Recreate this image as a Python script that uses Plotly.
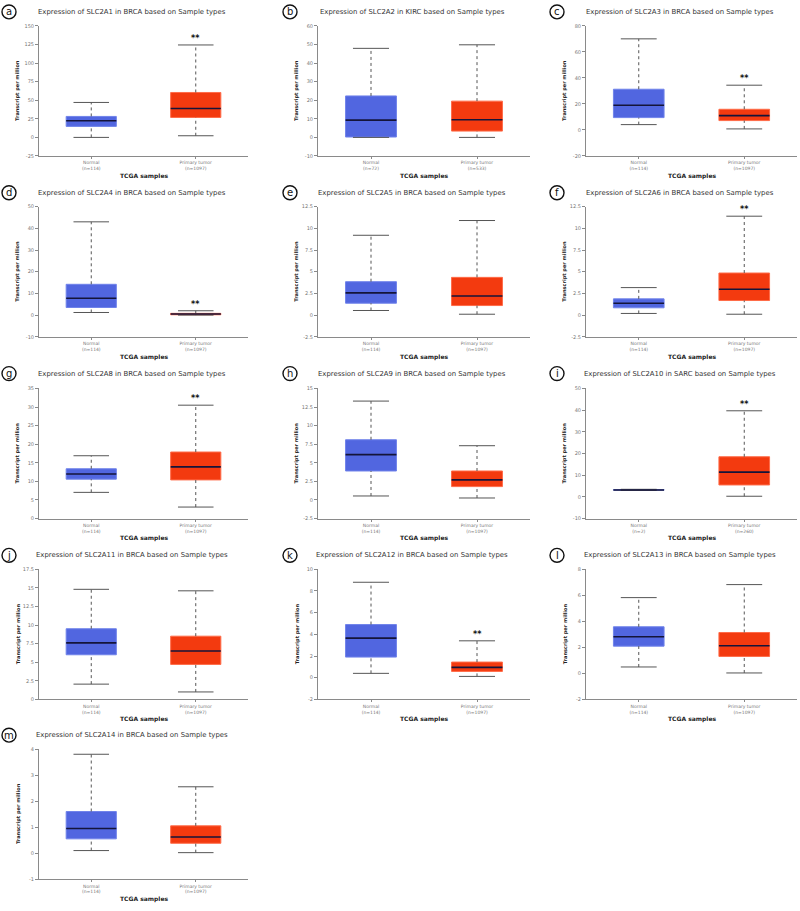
import plotly.graph_objects as go

# ---------------- data ----------------
genes = ["SLC2A1", "SLC2A2", "SLC2A3", "SLC2A4", "SLC2A5", "SLC2A6", "SLC2A8",
         "SLC2A9", "SLC2A10", "SLC2A11", "SLC2A12", "SLC2A13", "SLC2A14"]
cancers = ["BRCA", "KIRC", "BRCA", "BRCA", "BRCA", "BRCA", "BRCA",
           "BRCA", "SARC", "BRCA", "BRCA", "BRCA", "BRCA"]
panel_letters = ["a", "b", "c", "d", "e", "f", "g", "h", "i", "j", "k", "l", "m"]
group_names = ["Normal", "Primary tumor"]
n_normal = [114, 72, 114, 114, 114, 114, 114, 114, 2, 114, 114, 114, 114]
n_tumor = [1097, 533, 1097, 1097, 1097, 1097, 1097, 1097, 260, 1097, 1097, 1097, 1097]

normal_lower = [0.0, 0.0, 4.1, 1.2, 0.53, 0.19, 7.05, 0.54, 3.0, 2.05, 0.4, 0.49, 0.1]
normal_q1 = [14.8, 0.2, 9.5, 3.5, 1.37, 0.84, 10.6, 3.9, 3.1, 6.0, 1.9, 2.09, 0.55]
normal_median = [22.4, 9.3, 19.0, 7.8, 2.56, 1.37, 12.0, 6.1, 3.2, 7.6, 3.65, 2.81, 0.95]
normal_q3 = [28.2, 22.3, 31.3, 14.2, 3.85, 1.87, 13.4, 8.1, 3.35, 9.5, 4.9, 3.58, 1.6]
normal_upper = [47.0, 47.9, 70.0, 43.0, 9.2, 3.17, 16.9, 13.3, 3.5, 14.8, 8.8, 5.82, 3.8]

tumor_lower = [2.2, 0.0, 0.8, 0.0, 0.1, 0.1, 3.1, 0.27, 0.3, 1.0, 0.12, 0.03, 0.02]
tumor_q1 = [26.8, 3.4, 7.2, 0.15, 1.1, 1.68, 10.4, 1.8, 5.5, 4.7, 0.58, 1.3, 0.38]
tumor_median = [38.9, 9.5, 11.0, 0.5, 2.2, 2.98, 13.9, 2.7, 11.4, 6.5, 0.95, 2.12, 0.62]
tumor_q3 = [60.4, 19.5, 15.9, 0.8, 4.35, 4.85, 17.9, 3.9, 18.5, 8.5, 1.44, 3.14, 1.05]
tumor_upper = [124.3, 49.8, 34.4, 2.0, 10.9, 11.4, 30.5, 7.3, 39.7, 14.6, 3.4, 6.82, 2.55]
significant = [True, False, True, True, False, True, True, False, True, False, True, False, False]

y_min = [-25, -10, -20, -10, -2.5, -2.5, 0, -2.5, -10, 0, -2, -2, -1]
y_max = [150, 60, 80, 50, 12.5, 12.5, 35, 15, 50, 17.5, 10, 8, 4]
y_step = [25, 10, 20, 10, 2.5, 2.5, 5, 2.5, 10, 2.5, 2, 2, 1]

# ---------------- layout geometry (pixels) ----------------
W, H = 800, 911
col_x = [(39, 248), (318, 530), (586, 797)]
row_y = [(23, 154), (205, 336), (388, 519), (570, 701), (751, 882)]
title_y = [9, 191, 373, 556, 737]
letter_x = [9, 290, 557]

BLUE = "#5166e0"
BLUE_EDGE = "#7083ea"
RED = "#f33a0f"
RED_EDGE = "#ff6b48"
MED = "#14143a"
WHISK = "#555555"
AXC = "#8a8a8a"
FONT = "DejaVu Sans"

BOX_W = 0.48
CAP_W = 0.34


def px(x):
    return x / W


def py(y):
    return 1 - y / H


fig = go.Figure()
annotations = []
shapes = []
layout_axes = {}

for i, gene in enumerate(genes):
    r, c = divmod(i, 3)
    k = i + 1
    xa = "x" if k == 1 else f"x{k}"
    ya = "y" if k == 1 else f"y{k}"
    xkey = "xaxis" if k == 1 else f"xaxis{k}"
    ykey = "yaxis" if k == 1 else f"yaxis{k}"
    x0, x1 = col_x[c]
    yt, yb = row_y[r]

    groups = [
        (0, normal_lower[i], normal_q1[i], normal_median[i], normal_q3[i], normal_upper[i], BLUE, BLUE_EDGE),
        (1, tumor_lower[i], tumor_q1[i], tumor_median[i], tumor_q3[i], tumor_upper[i], RED, RED_EDGE),
    ]
    for pos, lo, q1, med, q3, up, col, edge in groups:
        # dotted whiskers
        fig.add_trace(go.Scatter(
            x=[pos, pos, None, pos, pos], y=[lo, q1, None, q3, up],
            mode="lines", line=dict(color=WHISK, width=1, dash="dot"),
            xaxis=xa, yaxis=ya, showlegend=False, hoverinfo="skip"))
        # caps
        fig.add_trace(go.Scatter(
            x=[pos - CAP_W / 2, pos + CAP_W / 2, None, pos - CAP_W / 2, pos + CAP_W / 2],
            y=[lo, lo, None, up, up],
            mode="lines", line=dict(color=WHISK, width=1),
            xaxis=xa, yaxis=ya, showlegend=False, hoverinfo="skip"))
        # box
        fig.add_trace(go.Bar(
            x=[pos], y=[q3 - q1], base=[q1], width=BOX_W,
            marker=dict(color=col, line=dict(color=edge, width=1)),
            xaxis=xa, yaxis=ya, showlegend=False, hoverinfo="skip"))
        # median
        fig.add_trace(go.Scatter(
            x=[pos - BOX_W / 2, pos + BOX_W / 2], y=[med, med],
            mode="lines", line=dict(color=MED, width=1.6),
            xaxis=xa, yaxis=ya, showlegend=False, hoverinfo="skip"))

    if significant[i]:
        annotations.append(dict(
            x=1, y=tumor_upper[i], xref=xa, yref=ya, text="<b>**</b>",
            showarrow=False, yanchor="bottom", yshift=0,
            font=dict(family=FONT, size=8, color="#111")))

    # y ticks
    nt = int(round((y_max[i] - y_min[i]) / y_step[i]))
    tv = [y_min[i] + j * y_step[i] for j in range(nt + 1)]
    tt = [f"{v:g}" for v in tv]

    layout_axes[xkey] = dict(
        domain=[px(x0), px(x1)], anchor=ya, range=[-0.5, 1.5],
        tickvals=[0, 1],
        ticktext=[f"{group_names[0]}<br>(n={n_normal[i]})", f"{group_names[1]}<br>(n={n_tumor[i]})"],
        showline=True, linecolor=AXC, linewidth=1, ticks="outside", ticklen=2,
        tickcolor=AXC, tickfont=dict(family=FONT, size=4.5, color="#777"),
        showgrid=False, zeroline=False, fixedrange=True)
    layout_axes[ykey] = dict(
        domain=[py(yb), py(yt)], anchor=xa, range=[y_min[i], y_max[i]],
        tickvals=tv, ticktext=tt,
        showline=True, linecolor=AXC, linewidth=1, ticks="outside", ticklen=3,
        tickcolor=AXC, tickfont=dict(family=FONT, size=5, color="#777"),
        showgrid=False, zeroline=False, fixedrange=True)

    # title
    cx = (x0 + x1) / 2 - 12
    annotations.append(dict(
        x=px(cx), y=py(title_y[r]), xref="paper", yref="paper",
        text=f"Expression of {gene} in {cancers[i]} based on Sample types",
        showarrow=False, xanchor="center", yanchor="middle",
        font=dict(family=FONT, size=6.9, color="#333")))
    # panel letter in circle
    lx, ly = letter_x[c], title_y[r]
    shapes.append(dict(type="circle", xref="paper", yref="paper",
                       x0=px(lx - 7), x1=px(lx + 7), y0=py(ly + 7), y1=py(ly - 7),
                       line=dict(color="#111", width=1.4)))
    annotations.append(dict(
        x=px(lx), y=py(ly), xref="paper", yref="paper", text=panel_letters[i],
        showarrow=False, xanchor="center", yanchor="middle",
        font=dict(family=FONT, size=10, color="#111")))
    # axis titles
    annotations.append(dict(
        x=px(x0 - 21), y=py((yt + yb) / 2), xref="paper", yref="paper",
        text="<b>Transcript per million</b>", textangle=-90,
        showarrow=False, xanchor="center", yanchor="middle",
        font=dict(family=FONT, size=5, color="#222")))
    annotations.append(dict(
        x=px((x0 + x1) / 2), y=py(yb + 20), xref="paper", yref="paper",
        text="<b>TCGA samples</b>",
        showarrow=False, xanchor="center", yanchor="middle",
        font=dict(family=FONT, size=6, color="#222")))

fig.update_layout(
    width=W, height=H, margin=dict(l=0, r=0, t=0, b=0),
    paper_bgcolor="white", plot_bgcolor="white",
    annotations=annotations, shapes=shapes, barmode="overlay",
    showlegend=False, **layout_axes)

fig.write_html(
    "out.html",
    config={"displayModeBar": False, "staticPlot": True},
    post_script="document.body.style.margin='0';document.body.style.padding='0';"
                "document.documentElement.style.overflow='hidden';")
